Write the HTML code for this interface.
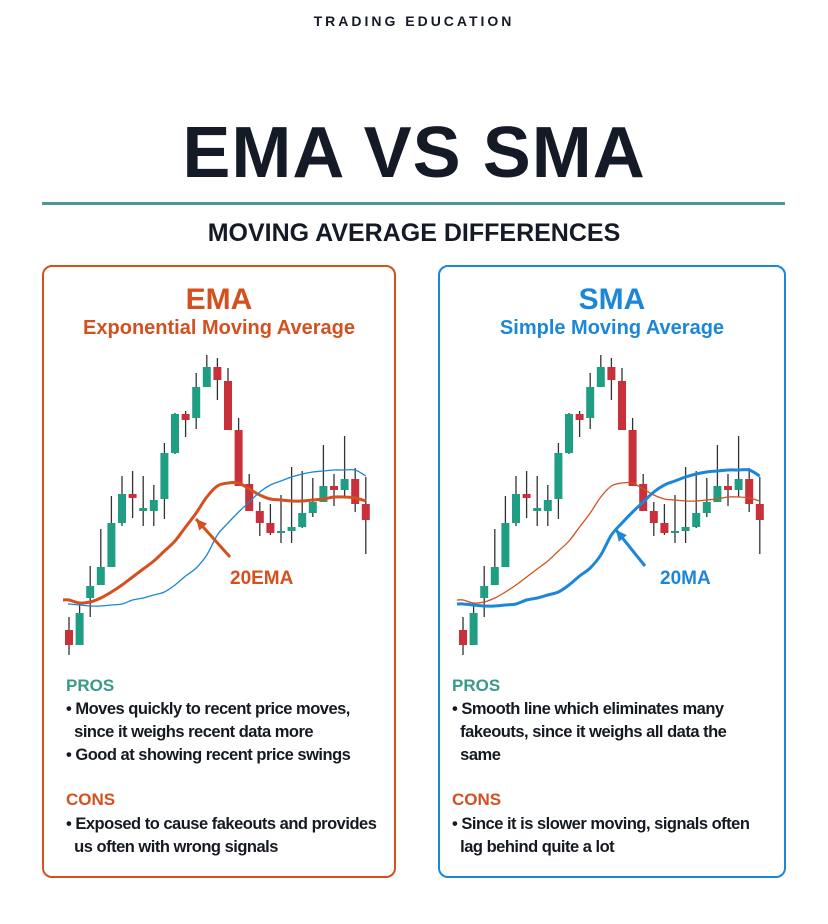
<!DOCTYPE html>
<html><head><meta charset="utf-8"><style>
body{margin:0;width:828px;height:924px;background:#fff;position:relative;overflow:hidden;font-family:"Liberation Sans",sans-serif;color:#141a26}
.abs{position:absolute}
.c{left:0;width:828px;text-align:center}
.panel{position:absolute;border:2px solid;border-radius:10px;box-sizing:border-box}
.t1{font-weight:bold;font-size:30px;text-align:center;width:100%;position:absolute;top:16px}
.t2{font-weight:bold;font-size:20px;text-align:center;width:100%;position:absolute;top:50px}
.sec{position:absolute;font-weight:bold;font-size:17px}
.bl{position:absolute;font-size:16.5px;font-weight:bold;line-height:23px;color:#151a22;letter-spacing:-0.5px;white-space:nowrap}
</style></head><body>
<div class="abs c" style="top:13px;font-size:14px;font-weight:bold;letter-spacing:3px">TRADING EDUCATION</div>
<div class="abs c" style="top:112px;font-size:72px;font-weight:bold;letter-spacing:1px">EMA VS SMA</div>
<div class="abs" style="left:42px;top:202px;width:743px;height:3px;background:#4a9a93"></div>
<div class="abs c" style="top:219px;font-size:25px;font-weight:bold">MOVING AVERAGE DIFFERENCES</div>

<div class="panel" style="left:42px;top:265px;width:354px;height:613px;border-color:#d4501f">
<div class="t1" style="color:#d4501f">EMA</div>
<div class="t2" style="color:#d4501f">Exponential Moving Average</div>
<div class="sec" style="left:22px;top:409px;color:#3a9a8a">PROS</div>
<div class="bl" style="left:22px;top:431px">• Moves quickly to recent price moves,<br>&nbsp;&nbsp;since it weighs recent data more<br>• Good at showing recent price swings</div>
<div class="sec" style="left:22px;top:523px;color:#d4501f">CONS</div>
<div class="bl" style="left:22px;top:546px">• Exposed to cause fakeouts and provides<br>&nbsp;&nbsp;us often with wrong signals</div>
</div>

<div class="panel" style="left:438px;top:265px;width:348px;height:613px;border-color:#1b87d6">
<div class="t1" style="color:#1b87d6">SMA</div>
<div class="t2" style="color:#1b87d6">Simple Moving Average</div>
<div class="sec" style="left:12px;top:409px;color:#3a9a8a">PROS</div>
<div class="bl" style="left:12px;top:431px">• Smooth line which eliminates many<br>&nbsp;&nbsp;fakeouts, since it weighs all data the<br>&nbsp;&nbsp;same</div>
<div class="sec" style="left:12px;top:523px;color:#d4501f">CONS</div>
<div class="bl" style="left:12px;top:546px">• Since it is slower moving, signals often<br>&nbsp;&nbsp;lag behind quite a lot</div>
</div>

<svg id="chart" class="abs" style="left:0;top:0" width="828" height="924"></svg>
<script>
// price values (higher = up)
const opens  =[30,15,62,75,93,137,166,149,149,161,207,246,242,273,293,279,230,176,149,137,127,129,133,147,158,174,170,181,156];
const closes =[15,47,74,93,137,166,162,152,160,207,246,240,273,293,280,230,174,149,137,127,129,133,147,158,174,170,181,156,140];
const highs  =[43,57,94,131,164,184,189,184,175,217,247,249,287,305,302,292,242,186,158,156,165,193,189,182,215,186,224,192,183];
const lows   =[5,15,43,75,93,134,142,134,134,141,206,223,231,273,260,230,174,149,124,125,117,117,132,143,158,154,163,148,106];
const ema    =[60,57,58,62,68,75,83,91,99,109,119,133,147,163,174,177,177,171,165,161,160,159,159,160,161,163,163,162,159];
const sma    =[56,55,54,54,55,56,60,62,65,68,75,84,92,105,125,137,148,158,168,175,179,183,186,188,189,190,190,190,184];
const svg=document.getElementById('chart');const NS='http://www.w3.org/2000/svg';
const x=(i,off)=>off+69+i*10.6;
const y=p=>660-p;
function mk(t,a){const e=document.createElementNS(NS,t);for(const k in a)e.setAttribute(k,a[k]);svg.appendChild(e);return e;}
function path(vals,off,startX){const pts=vals.map((v,i)=>[x(i,off),y(v)]);pts.unshift([startX,pts[0][1]]);
 let d='M'+pts[0][0]+','+pts[0][1];
 for(let i=0;i<pts.length-1;i++){const p0=pts[Math.max(0,i-1)],p1=pts[i],p2=pts[i+1],p3=pts[Math.min(pts.length-1,i+2)];
 d+=' C'+(p1[0]+(p2[0]-p0[0])/6)+','+(p1[1]+(p2[1]-p0[1])/6)+' '+(p2[0]-(p3[0]-p1[0])/6)+','+(p2[1]-(p3[1]-p1[1])/6)+' '+p2[0]+','+p2[1];}
 return d;}
function chart(off,emaThick,name){
 for(let i=0;i<opens.length;i++){const up=closes[i]>=opens[i];const col=up?'#1f9e83':'#c8303a';const cx=x(i,off);
  const w=mk('line',{x1:cx,x2:cx,y1:y(highs[i]),y2:y(lows[i]),stroke:'#333',"stroke-width":1.3});
  
  const top=y(Math.max(opens[i],closes[i])),h=Math.max(2,Math.abs(opens[i]-closes[i]));
  const b=mk('rect',{x:cx-4,y:top,width:8,height:h,fill:col});
  }
 const e=mk('path',{d:path(ema,off,off+63),fill:'none',stroke:'#d4501f',"stroke-width":emaThick?3:1.3});
 
 const s=mk('path',{d:path(sma,off,off+(emaThick?70:63)),fill:'none',stroke:'#1b87d6',"stroke-width":emaThick?1.3:3});
 
}
chart(0,true,'ema');chart(394,false,'sma');
function arrow(x1,y1,x2,y2,col,name){const l=mk('line',{x1,y1,x2,y2,stroke:col,"stroke-width":3});
 
 const a=Math.atan2(y2-y1,x2-x1),L=12;
 const p=mk('polygon',{points:`${x2},${y2} ${x2-L*Math.cos(a-0.45)},${y2-L*Math.sin(a-0.45)} ${x2-L*Math.cos(a+0.45)},${y2-L*Math.sin(a+0.45)}`,fill:col});
 }
arrow(230,557,196,519,'#d4501f','ema-arrow');arrow(645,566,616,530,'#1b87d6','sma-arrow');
const t1=mk('text',{x:230,y:584,fill:'#d4501f',"font-size":19,"font-weight":"bold","font-family":"Liberation Sans"});t1.textContent='20EMA';

const t2=mk('text',{x:660,y:584,fill:'#1b87d6',"font-size":19,"font-weight":"bold","font-family":"Liberation Sans"});t2.textContent='20MA';

</script>
</body></html>
